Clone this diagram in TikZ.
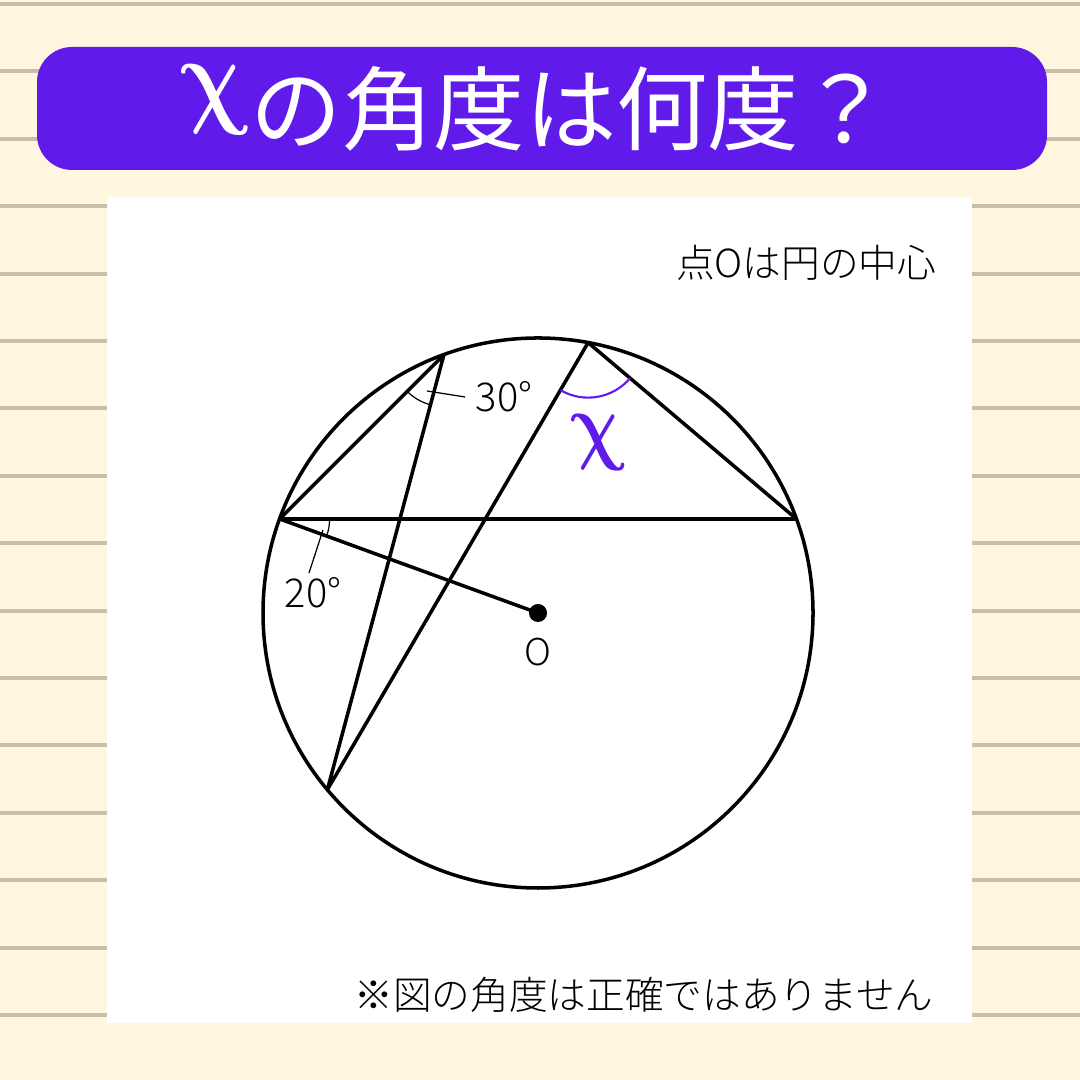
\documentclass[tikz,border=0pt]{standalone}
\usepackage{amsmath}
\usepackage{fontspec}
\setmainfont{Noto Sans CJK JP}
\IfFontExistsTF{Noto Sans CJK JP Light}{\newfontfamily\lightf{Noto Sans CJK JP Light}}{\newfontfamily\lightf{Noto Sans CJK JP}}
\usetikzlibrary{angles,calc}
\definecolor{bg}{RGB}{255,246,224}
\definecolor{rulec}{RGB}{200,191,170}
\definecolor{ban}{RGB}{96,26,234}
\begin{document}
\begin{tikzpicture}[x=0.01cm,y=0.01cm,
  geo/.style={line width=1pt,line join=round},
  thinl/.style={line width=0.35pt},
  chi/.style={inner sep=0pt,xslant=-0.22,font=\fontsize{24.88pt}{28pt}\selectfont},
  lab/.style={font=\lightf\fontsize{11.3pt}{13pt}\selectfont,inner sep=0pt},
  note/.style={font=\lightf\fontsize{11pt}{13pt}\selectfont,inner sep=0pt}]
\useasboundingbox (0,0) rectangle (1080,1080);
\fill[bg] (0,0) rectangle (1080,1080);
\foreach \k in {0,...,16}{
  \fill[rulec] (0,{1076-67.4*\k-2}) rectangle (1080,{1076-67.4*\k+2});
}
% banner
\fill[ban,rounded corners=0.35cm] (37,910) rectangle (1047,1033);
\node[chi,text=white,xscale=1.0,yscale=1.25] (tchi) at (215,980) {$\boldsymbol{\chi}$};
\node[text=white,inner sep=0pt,anchor=west,font=\fontsize{26pt}{30pt}\selectfont] (title) at (250,971) {の角度は何度？};
% panel
\fill[white] (107,57) rectangle (972,883);
\node[note,anchor=east] (center) at (937,817) {点Oは円の中心};
\node[note] (warn) at (644,85) {※図の角度は正確ではありません};
% geometry
\coordinate (O) at (538,467);
\coordinate (A) at ($(O)+(160:275)$);
\coordinate (B) at ($(O)+(20:275)$);
\coordinate (C) at ($(O)+(110:275)$);
\coordinate (D) at ($(O)+(79.5:275)$);
\coordinate (E) at ($(O)+(220:275)$);
\draw[geo] (O) circle[radius=275];
\draw[geo] (A) -- (B);
\draw[geo] (A) -- (C) -- (E) -- (D) -- (B);
\draw[geo] (A) -- (O);
\fill (O) circle[radius=9];
\node[lab,font=\lightf\fontsize{10.5pt}{12pt}\selectfont] (olab) at (538,428) {O};
% angle marks
\pic[draw,thinl,angle radius=0.52cm] {angle=A--C--E};
\pic[draw,thinl,angle radius=0.5cm] {angle=O--A--B};
\pic[draw=ban,line width=0.6pt,angle radius=0.55cm] {angle=E--D--B};
% labels
\node[lab] (l30) at (504,683) {30°};
\coordinate (t30) at (427,689);
\draw[thinl] (t30) -- ([xshift=-0.1cm]l30.west);
\node[lab] (l20) at (313,487) {20°};
\coordinate (t20) at (323,550);
\draw[thinl] (t20) -- ([xshift=-0.04cm,yshift=0.04cm]l20.north);
\node[chi,text=ban,xscale=0.8,yscale=1.0] (xlab) at (598,637) {$\boldsymbol{\chi}$};
\end{tikzpicture}
\end{document}
